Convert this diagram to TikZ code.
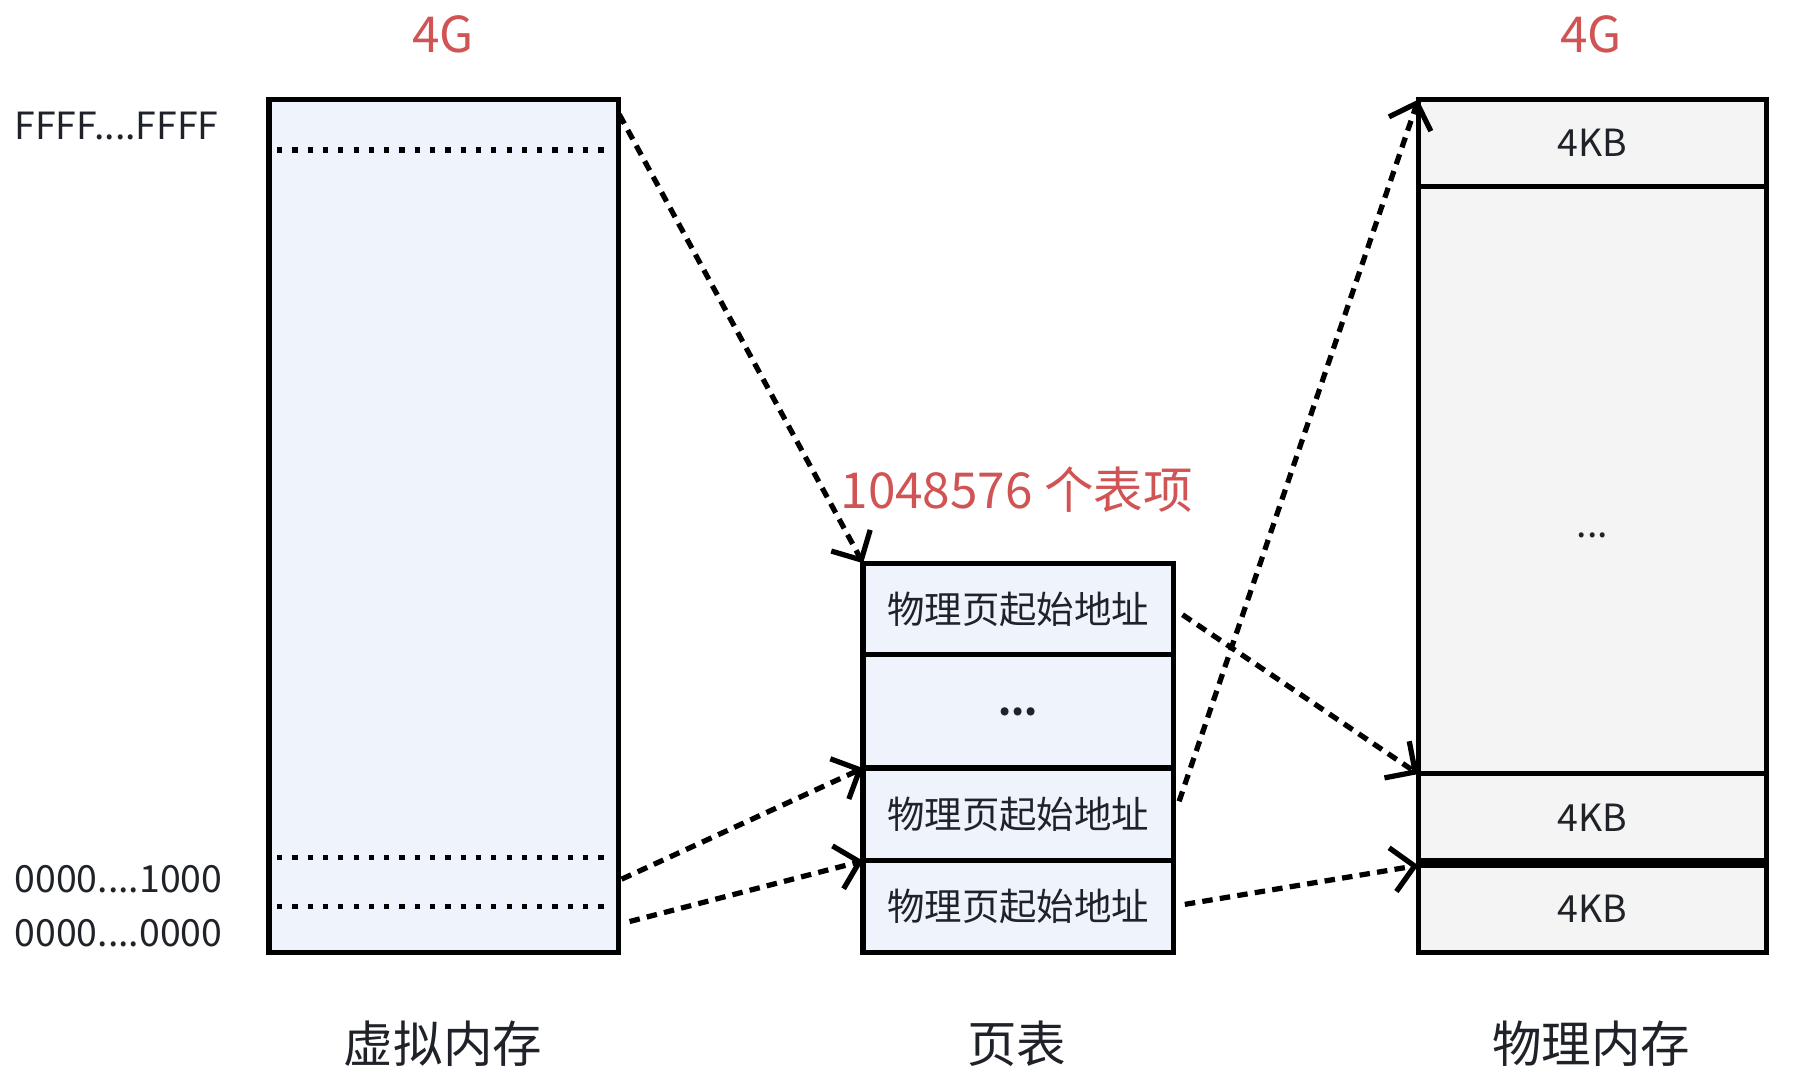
\documentclass[tikz,border=0pt]{standalone}
\usepackage{fontspec}
\setmainfont{Noto Sans CJK SC}
\usetikzlibrary{arrows.meta}
\definecolor{vfill}{RGB}{239,244,252}
\definecolor{pfill}{RGB}{244,244,244}
\definecolor{redtxt}{RGB}{208,84,84}
\definecolor{deftxt}{RGB}{31,35,41}
\tikzset{
  cellbox/.style={draw, line width=1.3pt, inner sep=0pt, outer sep=0pt, text=deftxt,
    font=\fontsize{9.3pt}{11pt}\selectfont},
  vcell/.style={cellbox, fill=vfill},
  pcell/.style={cellbox, fill=pfill},
  sizetxt/.style={text=redtxt, font=\fontsize{12.3pt}{14pt}\selectfont},
  addrtxt/.style={text=deftxt, anchor=west, inner sep=0pt, font=\fontsize{9.3pt}{11pt}\selectfont},
  titletxt/.style={text=deftxt, font=\fontsize{12.3pt}{14pt}\selectfont},
  dotstxt/.style={text=deftxt, font=\fontsize{9.3pt}{11pt}\selectfont},
  boundline/.style={line width=1.3pt, dash pattern=on 1.3pt off 2.5pt},
  maparrow/.style={line width=1.3pt, dash pattern=on 2.6pt off 1.8pt,
    -{Straight Barb[length=5.5pt,width=11pt,line width=1.3pt]}}
}
\begin{document}
\begin{tikzpicture}[x=0.01cm, y=-0.01cm]
  \useasboundingbox (0,0) rectangle (1568,946);

  % virtual memory
  \node[vcell, minimum width=3.05cm, minimum height=7.45cm] (vm) at (387.5,459.5) {};
  \foreach \yy in {131,749,792}
    \draw[boundline] (242,\yy) -- (530,\yy);
  \node[addrtxt] (hi) at (12,110) {FFFF....FFFF};
  \node[addrtxt] (lo1) at (12,768) {0000....1000};
  \node[addrtxt] (lo0) at (12,815) {0000....0000};
  \node[sizetxt] (vsize) at (387,30) {4G};
  \node[titletxt] (vname) at (387,912) {虚拟内存};

  % page table
  \node[vcell, minimum width=2.71cm, minimum height=0.80cm] (pt1) at (889.5,532) {物理页起始地址};
  \node[vcell, minimum width=2.71cm, minimum height=0.99cm] (pt2) at (889.5,621.5) {\textbf{...}};
  \node[vcell, minimum width=2.71cm, minimum height=0.81cm] (pt3) at (889.5,711.5) {物理页起始地址};
  \node[vcell, minimum width=2.71cm, minimum height=0.80cm] (pt4) at (889.5,792) {物理页起始地址};
  \node[sizetxt] (ptsize) at (888,428) {1048576 个表项};
  \node[titletxt] (ptname) at (888,912) {页表};

  % physical memory
  \node[pcell, minimum width=3.04cm, minimum height=0.76cm] (pm1) at (1391,125) {4KB};
  \node[pcell, minimum width=3.04cm, minimum height=5.13cm] (pm2) at (1391,419.5) {};
  \node[dotstxt] (pmdots) at (1391,468) {...};
  \node[pcell, minimum width=3.04cm, minimum height=0.76cm] (pm3) at (1391,714) {4KB};
  \node[pcell, minimum width=3.04cm, minimum height=0.76cm] (pm4) at (1391,794) {4KB};
  \node[sizetxt] (pmsize) at (1390,30) {4G};
  \node[titletxt] (pmname) at (1390,912) {物理内存};

  \coordinate (vtop) at (541,100);
  \coordinate (vone) at (543,768);
  \coordinate (vzero) at (550,805);
  \coordinate (e1) at (1033,537);
  \coordinate (e3) at (1030,700);
  \coordinate (e4) at (1035,790);

  \draw[maparrow] (vtop) -- (pt1.north west);
  \draw[maparrow] (vone) -- (pt3.north west);
  \draw[maparrow] (vzero) -- (pt4.north west);
  \draw[maparrow] (e1) -- (pm2.south west);
  \draw[maparrow] (e3) -- (pm1.north west);
  \draw[maparrow] (e4) -- (pm4.north west);
\end{tikzpicture}
\end{document}
